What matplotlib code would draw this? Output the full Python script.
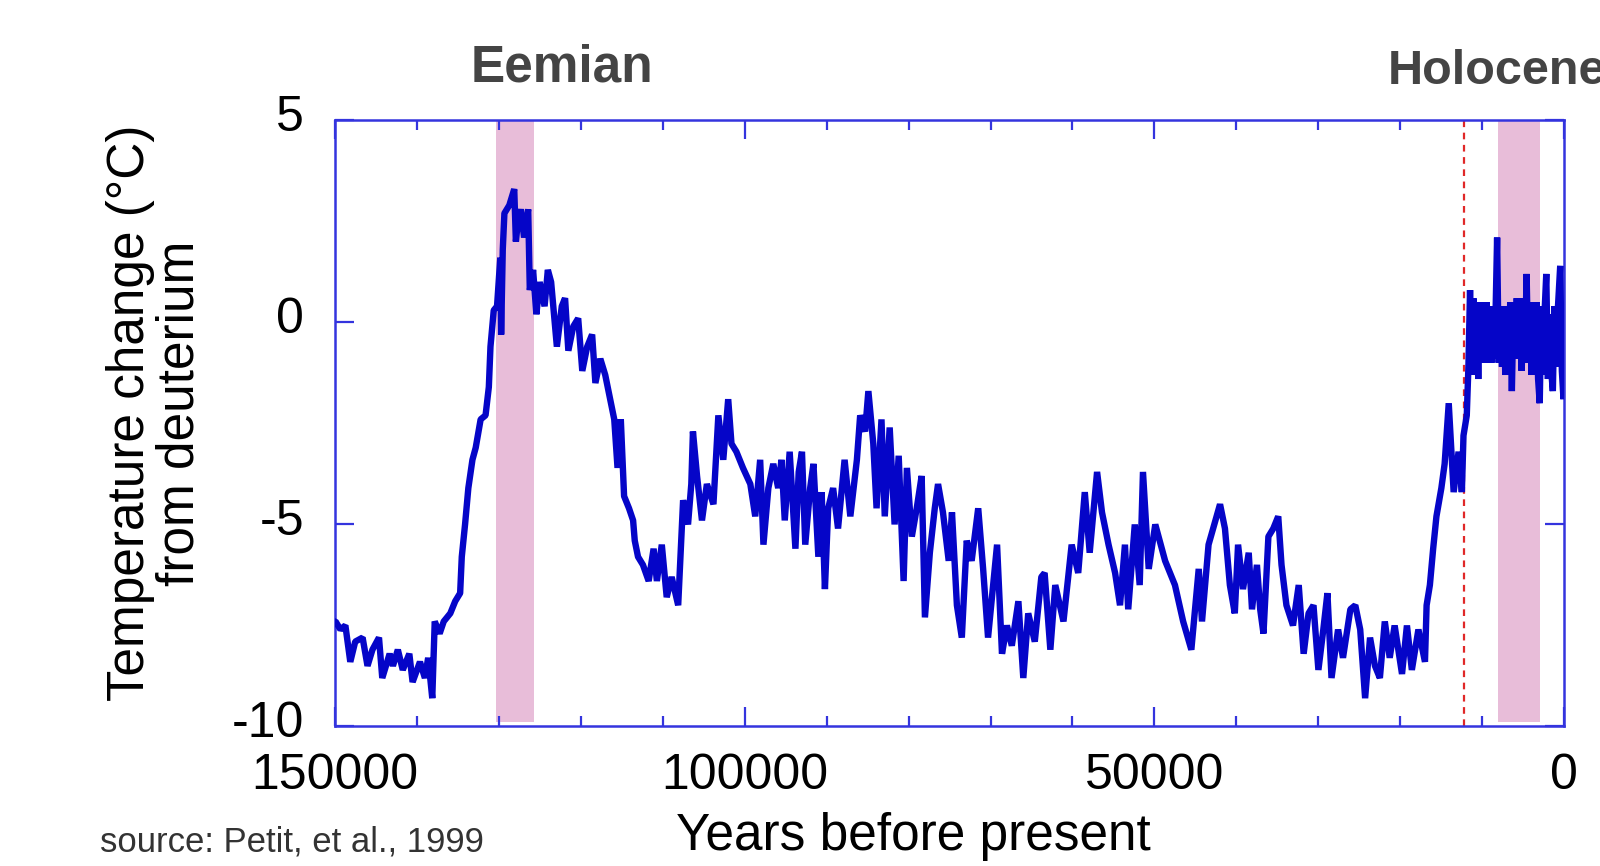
import numpy as np
import matplotlib
matplotlib.use('Agg')
import matplotlib.pyplot as plt
from matplotlib.ticker import MultipleLocator, FixedLocator
from matplotlib.transforms import ScaledTranslation

# Vostok deuterium temperature record
years = [
    150000, 149900, 149300, 148700, 148100, 147500, 146600, 146000, 145400, 144600,
    144200, 143300, 142900, 142300, 141700, 140900, 140500, 139600, 139000, 138600,
    138100, 137800, 137200, 136700, 135900, 135300, 134700, 134500, 134100, 133700,
    133200, 132800, 132200, 131600, 131200, 131000, 130600, 130200, 129800, 129700,
    129500, 129300, 128700, 128100, 127900, 127700, 127300, 126900, 126400, 126200,
    125800, 125400, 125000, 124400, 124000, 123600, 122900, 122300, 121900, 121500,
    120900, 120300, 119800, 119200, 118600, 118200, 117600, 117000, 116300, 115900,
    115500, 115100, 114700, 114100, 113600, 113400, 113000, 112400, 111700, 111100,
    110700, 110100, 109500, 108900, 108100, 107500, 106900, 106500, 106300, 105800,
    105200, 104600, 103800, 103200, 102600, 102000, 101600, 101000, 100200, 99300,
    98700, 98100, 97700, 97100, 96500, 95900, 95500, 95100, 94500, 93800,
    93400, 93000, 92600, 92000, 91600, 91000, 90600, 90200, 89800, 89200,
    88600, 87800, 87100, 86300, 85900, 85300, 84900, 84300, 83900, 83300,
    82900, 82300, 81700, 81200, 80600, 80200, 79600, 79000, 78400, 78000,
    77400, 76800, 76400, 75800, 75100, 74700, 74100, 73500, 72900, 72300,
    71500, 70900, 70300, 69200, 68600, 68000, 67400, 66600, 66000, 65400,
    64600, 63800, 63400, 62700, 62100, 61100, 60100, 59300, 58500, 57900,
    57000, 56400, 55600, 54800, 54200, 53600, 53200, 52400, 51800, 51400,
    50700, 49900, 48700, 47500, 46500, 45500, 44600, 44200, 43400, 42000,
    41400, 40800, 40200, 39800, 39200, 38500, 38100, 37500, 37100, 36700,
    36100, 35500, 34900, 34500, 33900, 33100, 32400, 31800, 31200, 30600,
    30000, 29400, 28900, 28400, 27600, 27000, 26100, 25500, 24900, 24300,
    23700, 23100, 22500, 21900, 21300, 20700, 19800, 19200, 18600, 17800,
    17000, 16800, 16400, 16000, 15600, 15000, 14600, 14100, 13500, 12900,
    12500, 12300, 11900, 11700, 11500, 11300, 11100, 10900, 10700, 10500,
    10300, 10100, 9900, 9700, 9500, 9300, 9100, 8900, 8700, 8500,
    8200, 8000, 7800, 7600, 7400, 7200, 7000, 6800, 6600, 6400,
    6200, 6000, 5800, 5600, 5400, 5200, 5000, 4800, 4600, 4400,
    4200, 4000, 3800, 3600, 3400, 3200, 3000, 2800, 2600, 2400,
    2200, 2000, 1800, 1600, 1400, 1200, 1000, 800, 500, 300,
    100, 0,
]
temps = [
    -7.4, -7.4, -7.6, -7.5, -8.4, -7.9, -7.8, -8.5, -8.1, -7.8,
    -8.8, -8.2, -8.5, -8.1, -8.6, -8.2, -8.9, -8.4, -8.8, -8.3,
    -9.3, -7.4, -7.7, -7.4, -7.2, -6.9, -6.7, -5.8, -5.0, -4.1,
    -3.4, -3.1, -2.4, -2.3, -1.6, -0.6, 0.3, 0.4, 1.6, -0.3,
    1.8, 2.7, 2.9, 3.3, 2.0, 2.4, 2.8, 2.1, 2.8, 0.8,
    1.3, 0.2, 1.0, 0.4, 1.3, 1.0, -0.6, 0.4, 0.6, -0.7,
    -0.1, 0.1, -1.2, -0.6, -0.3, -1.5, -0.9, -1.3, -2.0, -2.4,
    -3.6, -2.4, -4.3, -4.6, -4.9, -5.4, -5.8, -6.0, -6.4, -5.6,
    -6.4, -5.5, -6.8, -6.3, -7.0, -4.4, -5.0, -4.0, -2.7, -3.8,
    -4.9, -4.0, -4.5, -2.3, -3.4, -1.9, -3.0, -3.2, -3.6, -4.0,
    -4.8, -3.4, -5.5, -4.1, -3.5, -4.1, -3.4, -4.9, -3.2, -5.6,
    -3.7, -3.2, -5.5, -4.1, -3.5, -5.8, -4.2, -6.6, -4.6, -4.1,
    -5.1, -3.4, -4.8, -3.4, -2.3, -2.7, -1.7, -3.0, -4.6, -2.4,
    -4.8, -2.6, -5.0, -3.3, -6.4, -3.6, -5.3, -4.6, -3.8, -7.3,
    -5.7, -4.6, -4.0, -4.7, -5.9, -4.7, -7.0, -7.8, -5.4, -5.9,
    -4.6, -6.1, -7.8, -5.5, -8.2, -7.5, -8.0, -6.9, -8.8, -7.2,
    -7.9, -6.3, -6.2, -8.1, -6.5, -7.4, -5.5, -6.2, -4.2, -5.7,
    -3.7, -4.7, -5.5, -6.2, -7.0, -5.5, -7.1, -5.0, -6.5, -3.7,
    -6.1, -5.0, -5.9, -6.5, -7.4, -8.1, -6.1, -7.4, -5.5, -4.5,
    -5.1, -6.5, -7.2, -5.5, -6.6, -5.7, -7.1, -6.0, -7.1, -7.7,
    -5.3, -5.1, -4.8, -6.0, -7.0, -7.5, -6.5, -8.2, -7.2, -7.0,
    -8.6, -7.6, -6.7, -8.8, -7.6, -8.3, -7.1, -7.0, -7.6, -9.3,
    -7.8, -8.5, -8.8, -7.4, -8.3, -7.5, -8.7, -7.5, -8.6, -7.6,
    -8.4, -7.0, -6.5, -5.6, -4.8, -4.1, -3.5, -2.0, -4.2, -3.2,
    -4.2, -2.8, -2.3, -1.1, 0.8, -1.3, 0.6, -1.2, 0.4, -1.4,
    0.5, -0.9, 0.4, -1.0, 0.5, -0.8, 0.3, -1.0, 0.4, -0.9,
    2.1, -1.0, 0.4, -1.1, 0.3, -1.3, 0.4, -1.0, 0.5, -1.7,
    0.4, -0.9, 0.6, -0.6, 0.5, -1.2, 0.6, -0.8, 1.2, -1.0,
    0.5, -1.3, 0.4, -1.1, 0.5, -1.4, -2.0, 0.4, -1.3, 0.3,
    1.2, -1.4, 0.2, -1.2, -1.7, 0.4, -1.1, 0.3, 1.4, -1.2,
    -1.9, -0.3,
]

# Interglacial bands and the dashed marker
eemian_band = (130300, 125700)
holocene_band = (8100, 3000)
marker_year = 12240

line_blue = '#0505c8'
frame_blue = '#3434de'
pink = '#e8bdd9'

plt.rcParams['font.family'] = ['Liberation Sans', 'DejaVu Sans']

fig = plt.figure(figsize=(16, 8.66), dpi=100)
ax = fig.add_axes([0.2092, 0.1611, 0.7685, 0.6999])

ax.axvspan(*eemian_band, ymin=0.008, ymax=1, color=pink, lw=0, zorder=1)
ax.axvspan(*holocene_band, ymin=0.008, ymax=1, color=pink, lw=0, zorder=1)
ax.axvline(marker_year, color='#e02828', lw=1.6, ls=(0, (3, 2.5)), zorder=2)
ax.plot(years, temps, color=line_blue, lw=4.6, solid_joinstyle='bevel',
        zorder=3)

ax.set_xlim(150000, 0)
ax.set_ylim(-10, 5)

ax.xaxis.set_major_locator(FixedLocator([150000, 100000, 50000, 0]))
ax.xaxis.set_minor_locator(MultipleLocator(10000))
ax.yaxis.set_major_locator(FixedLocator([-10, -5, 0, 5]))
ax.set_xticklabels(['150000', '100000', '50000', '0'])
ax.set_yticklabels(['-10', '-5', '0', '5'])

ax.tick_params(which='both', direction='in', top=True, right=True,
               color=frame_blue, width=1.6)
ax.tick_params(which='major', length=14)
ax.tick_params(which='minor', length=7)
ax.tick_params(axis='x', labelsize=36, pad=19)
ax.tick_params(axis='y', labelsize=36, pad=22)
for s in ax.spines.values():
    s.set_color(frame_blue)
    s.set_linewidth(1.8)

# y tick labels sit a bit above their ticks in the original
shift = ScaledTranslation(0, 0.07, fig.dpi_scale_trans)
for lab in ax.get_yticklabels():
    lab.set_transform(lab.get_transform() + shift)

fig.text(0.097, 0.523, 'Temperature change (°C)\nfrom deuterium', rotation=90,
         ha='center', va='center', fontsize=37, linespacing=1.02)
fig.text(0.5706, 0.0335, 'Years before present', ha='center', va='center',
         fontsize=37)
fig.text(0.0625, 0.028, 'source: Petit, et al., 1999', ha='left', va='center',
         fontsize=25, color='#333333')
fig.text(0.351, 0.922, 'Eemian', ha='center', va='center', fontsize=37,
         fontweight='bold', color='#444444')
fig.text(0.8675, 0.918, 'Holocene', ha='left', va='center', fontsize=35,
         fontweight='bold', color='#444444')

fig.savefig('out.png', dpi=100, facecolor='white')
